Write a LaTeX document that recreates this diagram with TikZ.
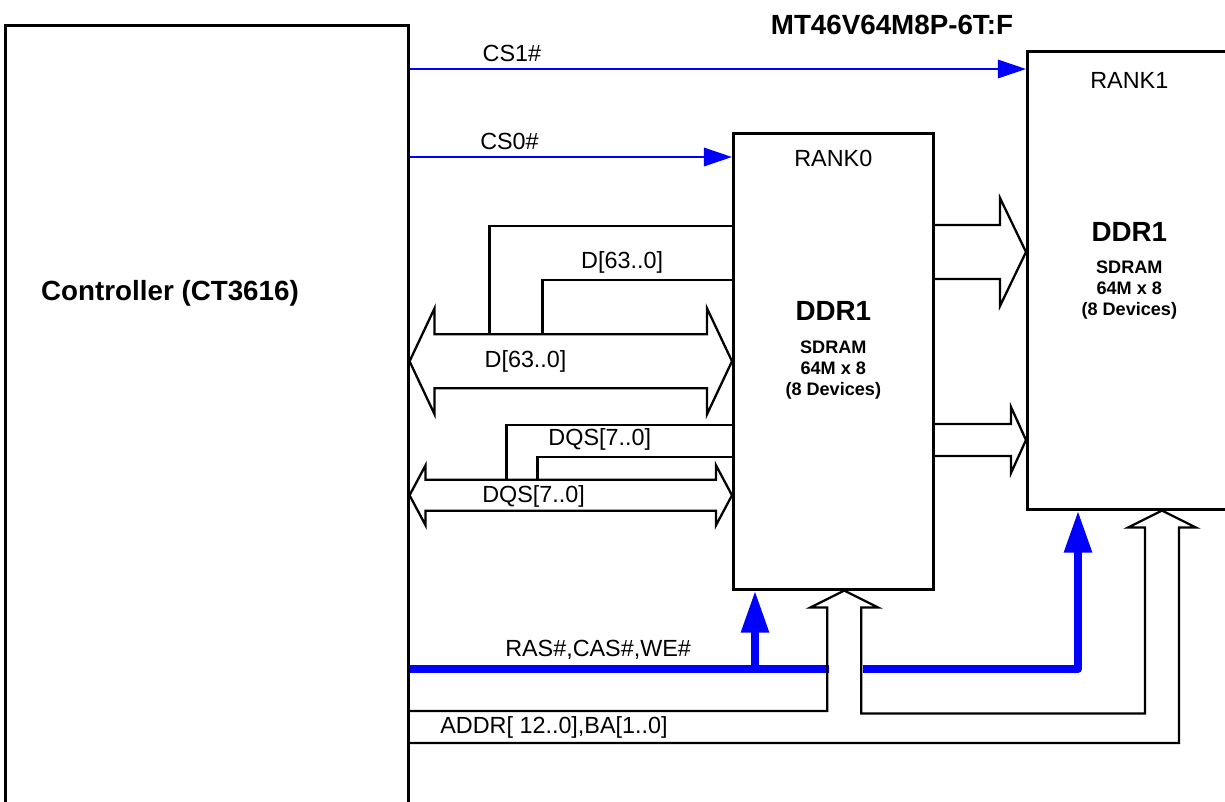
\documentclass[tikz,border=0pt]{standalone}
\usepackage{fontspec}
\setmainfont{Liberation Sans}
\usetikzlibrary{arrows.meta,positioning,calc}

\begin{document}
\begin{tikzpicture}[
  x=0.02cm, y=-0.02cm,
  font=\fontsize{13.3}{15}\selectfont,
  blk/.style={draw, line width=1.5pt, fill=white, inner sep=0pt, anchor=north west},
  wire/.style={draw, line width=1.3pt},
  cs/.style={blue, line width=1.1pt, -{Triangle[length=16pt,width=10.5pt]}},
  ras/.style={blue, line width=4.5pt, line join=round},
  rasarr/.style={ras, -{Triangle[length=24pt,width=15pt]}},
  sig/.style={above, text=black},
  big/.style={font=\fontsize{15.8}{18}\selectfont\bfseries},
  info/.style={font=\fontsize{10.3}{11.8}\selectfont\bfseries, align=center}
]
\useasboundingbox (0,0) rectangle (1225,802);
\clip (0,0) rectangle (1225,802);

% blocks
\node[blk, minimum width=8.06cm, minimum height=16.6cm] (ctrl) at (4,24) {};
\node[big] (ctrlname) at (170,293) {Controller (CT3616)};
\node[blk, minimum width=4cm, minimum height=9.12cm] (r0) at (732,132) {};
\node[blk, minimum width=4.08cm, minimum height=9.16cm] (r1) at (1026,50) {};
\node[big] (part) at (892,25) {MT46V64M8P-6T:F};

\node (r0name) at ($(r0.north)+(0,26)$) {RANK0};
\node[big] (r0chip) at ($(r0.north)+(0,179)$) {DDR1};
\node[info] (r0info) at ($(r0.north)+(0,238)$) {SDRAM\\64M x 8\\(8 Devices)};
\node (r1name) at ($(r1.north)+(0,30)$) {RANK1};
\node[big] (r1chip) at ($(r1.north)+(0,182)$) {DDR1};
\node[info] (r1info) at ($(r1.north)+(0,240)$) {SDRAM\\64M x 8\\(8 Devices)};

% chip selects
\coordinate (cs1) at ($(r1.north west)+(0,19)$);
\coordinate (cs0) at ($(r0.north west)+(0,25)$);
\draw[cs] (cs1 -| ctrl.east) -- node[sig, pos=0.166] (cs1lbl) {CS1\#} (cs1);
\draw[cs] (cs0 -| ctrl.east) -- node[sig, pos=0.31] (cs0lbl) {CS0\#} (cs0);

% data bus
\draw[wire] (ctrl.east |- r0.west) coordinate (dl) -- ++(25,-53) -- ++(0,26)
  -- ($(r0.west)+(-25,-27)$) -- ++(0,-26) -- (r0.west) -- ++(-25,53) -- ++(0,-26)
  -- ($(dl)+(25,27)$) -- ++(0,26) -- cycle;
\node (dlbl) at ($(dl)+(116,0)$) {D[63..0]};
\draw[wire] ($(dl)+(80,-27)$) |- ($(r0.west)+(0,-135)$);
\draw[wire] ($(dl)+(133,-27)$) |- node[sig, pos=0.71] (dtaplbl) {D[63..0]} ($(r0.west)+(0,-81)$);

% strobe bus
\coordinate (qs) at ($(r0.west)+(0,134)$);
\draw[wire] (ctrl.east |- qs) coordinate (ql) -- ++(16,-30) -- ++(0,14.5)
  -- ($(qs)+(-16,-15.5)$) -- ++(0,-14.5) -- (qs) -- ++(-16,30) -- ++(0,-14.5)
  -- ($(ql)+(16,15.5)$) -- ++(0,14.5) -- cycle;
\node (qlbl) at ($(ql)+(124,1)$) {DQS[7..0]};
\draw[wire] ($(ql)+(97,-15.5)$) |- ($(qs)+(0,-70)$);
\draw[wire] ($(ql)+(128,-15.5)$) |- node[sig, pos=0.66] (qtaplbl) {DQS[7..0]} ($(qs)+(0,-38)$);

% rank0 -> rank1
\coordinate (dtip) at ($(r1.north west)+(0,202)$);
\coordinate (dbase) at (dtip -| r0.east);
\draw[wire] ($(dbase)+(0,-27)$) -- ($(dtip)+(-26,-27)$) -- ++(0,-27) -- (dtip)
  -- ++(-26,54) -- ++(0,-27) -- ($(dbase)+(0,27)$);
\coordinate (qtip) at ($(r1.north west)+(0,390)$);
\coordinate (qbase) at (qtip -| r0.east);
\draw[wire] ($(qbase)+(0,-16)$) -- ($(qtip)+(-15,-16)$) -- ++(0,-17) -- (qtip)
  -- ++(-15,33) -- ++(0,-17) -- ($(qbase)+(0,16)$);

% commands
\coordinate (ras) at (ctrl.east |- 0,669);
\coordinate (ras0) at ($(r0.south west)+(23,0)$);
\coordinate (ras1) at ($(r1.south west)+(52,0)$);
\draw[ras] (ras) -- node[sig, pos=0.45] (raslbl) {RAS\#,CAS\#,WE\#} ($(ras)+(419,0)$);
\draw[rasarr] (ras0 |- ras) -- (ras0);
\draw[rasarr] ($(ras)+(453,0)$) -| (ras1);

% address
\coordinate (a0) at ($(r0.south)+(11,0)$);
\coordinate (a1) at ($(r1.south west)+(136,0)$);
\draw[wire] (ctrl.east |- 0,711) -| ($(a0)+(-17,17)$) -- ++(-17,0) -- (a0) -- ++(34,17)
  -- ++(-17,0) |- ($(a1)+(-17,203)$) -- ($(a1)+(-17,17)$) -- ++(-17,0) -- (a1)
  -- ++(34,17) -- ++(-17,0) |- (ctrl.east |- 0,743);
\node (addrlbl) at (554,727) {ADDR[ 12..0],BA[1..0]};
\end{tikzpicture}
\end{document}
